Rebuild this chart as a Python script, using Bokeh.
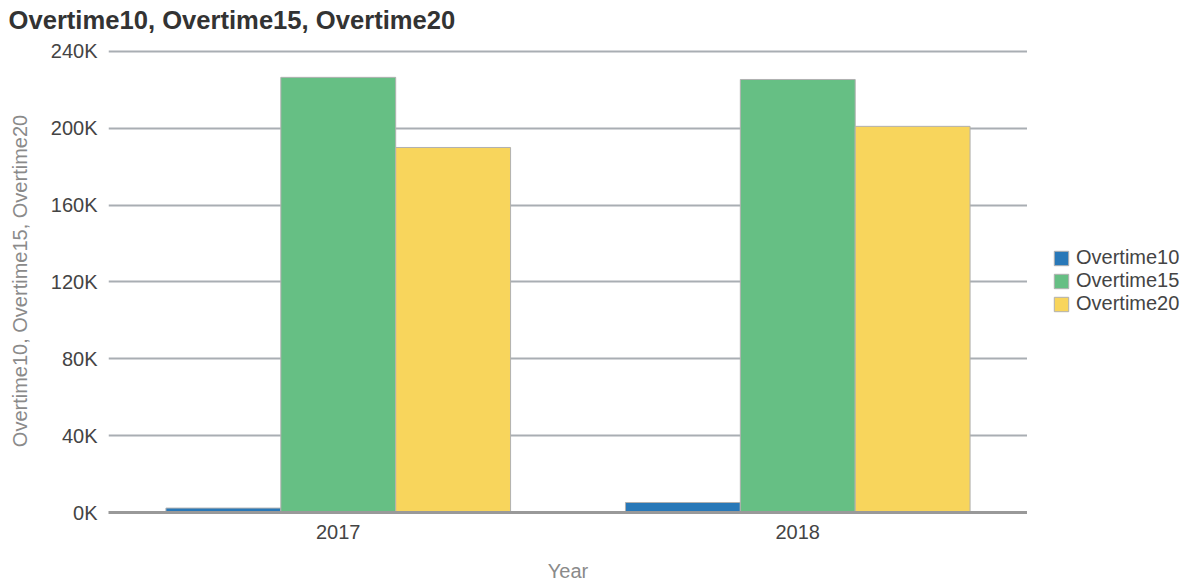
from bokeh.plotting import figure
from bokeh.layouts import row
from bokeh.models import ColumnDataSource, FactorRange, FixedTicker, Legend, LegendItem, Range1d, Title
from bokeh.transform import dodge
from bokeh.embed import file_html
from bokeh.resources import INLINE

years = ["2017", "2018"]
series = ["Overtime10", "Overtime15", "Overtime20"]
overtime10 = [2300, 5200]
overtime15 = [226500, 225400]
overtime20 = [190000, 201000]
colors = ["#2878b8", "#66bf84", "#f8d55c"]
y_ticks = [0, 40000, 80000, 120000, 160000, 200000, 240000]
y_tick_labels = ["0K", "40K", "80K", "120K", "160K", "200K", "240K"]
title_text = "Overtime10, Overtime15, Overtime20"

FONT = "Liberation Sans"

source = ColumnDataSource(dict(year=years, Overtime10=overtime10,
                               Overtime15=overtime15, Overtime20=overtime20))

p = figure(x_range=FactorRange(*years), y_range=Range1d(0, 241000),
           width=1027, height=588, output_backend="svg", toolbar_location=None,
           min_border_left=108, min_border_right=0, min_border_top=49,
           min_border_bottom=76)
p.title = None

# small spacer between frame and title, then the title itself
p.add_layout(Title(text=" ", text_font_size="1px", standoff=6), "above")
p.add_layout(Title(text=title_text, text_font=FONT, text_font_size="25.6px",
                   text_font_style="bold", text_color="#333333", offset=-100,
                   vertical_align="top", standoff=10), "above")

offsets = [-0.25, 0.0, 0.25]
for name, off, col in zip(series, offsets, colors):
    p.vbar(x=dodge("year", off, range=p.x_range), top=name, width=0.25,
           source=source, fill_color=col, line_color="#b0b0b0", line_width=1)

p.outline_line_color = None
p.xgrid.grid_line_color = None
p.ygrid.grid_line_color = "#a9aeb3"
p.ygrid.grid_line_width = 2
p.ygrid.ticker = FixedTicker(ticks=y_ticks)

p.yaxis.ticker = FixedTicker(ticks=y_ticks)
p.yaxis.major_label_overrides = {t: l for t, l in zip(y_ticks, y_tick_labels)}
p.yaxis.axis_line_color = None
p.yaxis.major_tick_line_color = None
p.yaxis.minor_tick_line_color = None
p.yaxis.major_tick_in = 0
p.yaxis.major_tick_out = 0
p.yaxis.major_label_standoff = 11
p.yaxis.major_label_text_font = FONT
p.yaxis.major_label_text_font_size = "20px"
p.yaxis.major_label_text_color = "#444444"
p.yaxis.axis_label = title_text
p.yaxis.axis_label_text_font = FONT
p.yaxis.axis_label_text_font_size = "20px"
p.yaxis.axis_label_text_font_style = "normal"
p.yaxis.axis_label_text_color = "#8a8a8a"
p.yaxis.axis_label_standoff = 17

p.xaxis.axis_line_color = "#999999"
p.xaxis.axis_line_width = 3
p.xaxis.major_tick_line_color = None
p.xaxis.minor_tick_line_color = None
p.xaxis.major_tick_in = 0
p.xaxis.major_tick_out = 0
p.xaxis.major_label_standoff = 12
p.xaxis.major_label_text_font = FONT
p.xaxis.major_label_text_font_size = "20px"
p.xaxis.major_label_text_color = "#444444"
p.xaxis.axis_label = "Year"
p.xaxis.axis_label_text_font = FONT
p.xaxis.axis_label_text_font_size = "20px"
p.xaxis.axis_label_text_font_style = "normal"
p.xaxis.axis_label_text_color = "#8a8a8a"
p.xaxis.axis_label_standoff = 18

# legend panel (separate figure at the right); its renderers are hidden copies
lp = figure(width=164, height=588, output_backend="svg", toolbar_location=None,
            x_axis_type=None, y_axis_type=None, min_border=0,
            x_range=FactorRange(*years), y_range=Range1d(0, 241000))
lp.outline_line_color = None
lp.xgrid.visible = False
lp.ygrid.visible = False
legend_renderers = []
for name, off, col in zip(series, offsets, colors):
    r = lp.vbar(x=dodge("year", off, range=lp.x_range), top=name, width=0.25,
                source=source, fill_color=col, line_color="#b0b0b0", line_width=1,
                visible=False)
    legend_renderers.append(r)

legend = Legend(items=[LegendItem(label=s, renderers=[r]) for s, r in zip(series, legend_renderers)],
                location=(25, 197), margin=0, padding=0, spacing=0,
                glyph_width=18, glyph_height=18, label_height=23, label_standoff=6,
                label_text_font=FONT, label_text_font_size="20px",
                label_text_color="#444444", inactive_fill_alpha=0,
                border_line_color=None, background_fill_color=None)
lp.add_layout(legend)

layout = row(p, lp)
open("out.html", "w").write(file_html(layout, INLINE))
